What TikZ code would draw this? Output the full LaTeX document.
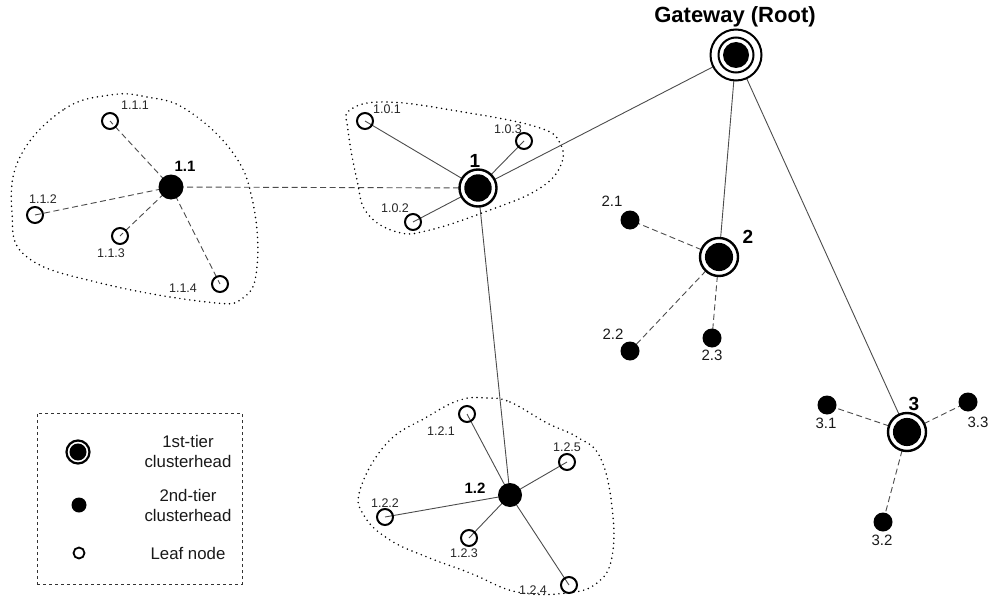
\documentclass[tikz,border=0pt]{standalone}
\usepackage{fontspec}
\setmainfont{Liberation Sans}
\usetikzlibrary{backgrounds}
\begin{document}
\begin{tikzpicture}[x=1pt,y=-1pt,
  leaf/.style={circle,draw=black,line width=2pt,minimum size=16pt,inner sep=0pt},
  tiertwo/.style={circle,fill=black,minimum size=#1,inner sep=0pt},
  tierone/.style={circle,draw=black,line width=2.4pt,fill=white,minimum size=#1,inner sep=0pt,
     path picture={\fill[black] (path picture bounding box.center) circle (0.37*#1);}},
  gw/.style={circle,draw=black,line width=2pt,fill=white,minimum size=51pt,inner sep=0pt,
     path picture={\draw[black,line width=2pt,fill=white] (path picture bounding box.center) circle (17.5pt);
                   \fill[black] (path picture bounding box.center) circle (13pt);}},
  solidedge/.style={black!70,line width=0.9pt},
  dashedge/.style={black!70,line width=0.9pt,dash pattern=on 6pt off 3.5pt},
  blob/.style={black,line width=1.7pt,dash pattern=on 0pt off 5pt,line cap=round},
  lbl/.style={inner sep=0pt,text=black!85,font=\fontsize{12.5}{14}\selectfont},
  lbltwo/.style={inner sep=0pt,text=black!90,font=\fontsize{15}{17}\selectfont},
  bl/.style={inner sep=0pt,font=\fontsize{#1}{#1}\selectfont\bfseries},
  legtxt/.style={inner sep=0pt,align=center,text=black!90,font=\fontsize{16.8}{20}\selectfont}
]
\useasboundingbox (0,0) rectangle (993,602);

% cluster boundaries
\draw[blob] plot[smooth cycle,tension=0.7] coordinates {(110,95) (63,110) (20,157) (12,213) (27,257) (100,283) (207,302) (243,298) (257,267) (253,203) (233,153) (187,110) (147,97)};
\draw[blob] plot[smooth cycle,tension=0.7] coordinates {(350,110) (387,102) (463,112) (537,127) (560,143) (560,167) (537,190) (490,210) (430,230) (397,232) (367,213) (357,180) (348,130)};
\draw[blob] plot[smooth cycle,tension=0.7] coordinates {(487,398) (510,402) (547,423) (577,437) (600,457) (612,507) (612,557) (597,583) (567,593) (517,592) (470,573) (427,557) (390,540) (365,517) (360,490) (387,443) (427,417) (460,400)};

% nodes
\node[gw] (gw) at (736,55) {};
\node[bl=22] (gwl) at (735,17) {Gateway (Root)};

\node[tierone=37pt] (n1) at (478,188) {};
\node[bl=19] (n1l) at (475,161) {1};
\node[tierone=38pt] (n2) at (719,257) {};
\node[bl=19] (n2l) at (748,237) {2};
\node[tierone=38pt] (n3) at (907,432) {};
\node[bl=19] (n3l) at (914,404) {3};

\node[tiertwo=25pt] (n11) at (171,187) {};
\node[bl=15] (n11l) at (185,166) {1.1};
\node[tiertwo=24pt] (n12) at (510,495) {};
\node[bl=15] (n12l) at (475,488) {1.2};

\node[leaf] (n111) at (110,121) {};
\node[lbl] (n111l) at (135,105) {1.1.1};
\node[leaf] (n112) at (35,215) {};
\node[lbl] (n112l) at (43,199) {1.1.2};
\node[leaf] (n113) at (120,236) {};
\node[lbl] (n113l) at (111,253) {1.1.3};
\node[leaf] (n114) at (220,284) {};
\node[lbl] (n114l) at (183,288) {1.1.4};

\node[leaf] (n101) at (365,121) {};
\node[lbl] (n101l) at (387,109) {1.0.1};
\node[leaf] (n102) at (413,222) {};
\node[lbl] (n102l) at (395,208) {1.0.2};
\node[leaf] (n103) at (524,141) {};
\node[lbl] (n103l) at (508,129) {1.0.3};

\node[leaf] (n121) at (467,414) {};
\node[lbl] (n121l) at (441,431) {1.2.1};
\node[leaf] (n122) at (385,517) {};
\node[lbl] (n122l) at (385,503) {1.2.2};
\node[leaf] (n123) at (469,538) {};
\node[lbl] (n123l) at (464,553) {1.2.3};
\node[leaf] (n124) at (569,585) {};
\node[lbl] (n124l) at (533,590) {1.2.4};
\node[leaf] (n125) at (567,462) {};
\node[lbl] (n125l) at (567,447) {1.2.5};

\node[tiertwo=19pt] (n21) at (630,220) {};
\node[lbltwo] (n21l) at (612,201) {2.1};
\node[tiertwo=19pt] (n22) at (630,351) {};
\node[lbltwo] (n22l) at (613,334) {2.2};
\node[tiertwo=19pt] (n23) at (712,338) {};
\node[lbltwo] (n23l) at (712,355) {2.3};

\node[tiertwo=19pt] (n31) at (827,405) {};
\node[lbltwo] (n31l) at (826,423) {3.1};
\node[tiertwo=19pt] (n32) at (883,522) {};
\node[lbltwo] (n32l) at (882,540) {3.2};
\node[tiertwo=19pt] (n33) at (968,402) {};
\node[lbltwo] (n33l) at (978,422) {3.3};

% edges
\begin{pgfonlayer}{background}
\draw[solidedge] (gw.center) -- (n1.center);
\draw[solidedge] (gw.center) -- (n2.center);
\draw[solidedge] (gw.center) -- (n3.center);
\draw[solidedge] (n1.center) -- (n101.center);
\draw[solidedge] (n1.center) -- (n102.center);
\draw[solidedge] (n1.center) -- (n103.center);
\draw[solidedge] (n1.center) -- (n12.center);
\draw[dashedge] (n1.center) -- (n11.center);
\foreach \t in {n111,n112,n113,n114} \draw[dashedge] (n11.center) -- (\t.center);
\foreach \t in {n121,n122,n123,n124,n125} \draw[solidedge] (n12.center) -- (\t.center);
\foreach \t in {n21,n22,n23} \draw[dashedge] (n2.center) -- (\t.center);
\foreach \t in {n31,n32,n33} \draw[dashedge] (n3.center) -- (\t.center);
\end{pgfonlayer}

% legend
\node[draw=black!80,dashed,line width=0.8pt,minimum width=205pt,minimum height=171pt,inner sep=0pt] (leg) at (139.5,498.5) {};
\node[tierone=23pt,line width=2.2pt] (lg1) at (78,452) {};
\node[legtxt] (lg1t) at (188,451) {1st-tier\\clusterhead};
\node[tiertwo=15pt] (lg2) at (79,505) {};
\node[legtxt] (lg2t) at (188,505) {2nd-tier\\clusterhead};
\node[leaf,minimum size=11pt,line width=1.8pt] (lg3) at (79,553) {};
\node[legtxt] (lg3t) at (188,553) {Leaf node};
\end{tikzpicture}
\end{document}
